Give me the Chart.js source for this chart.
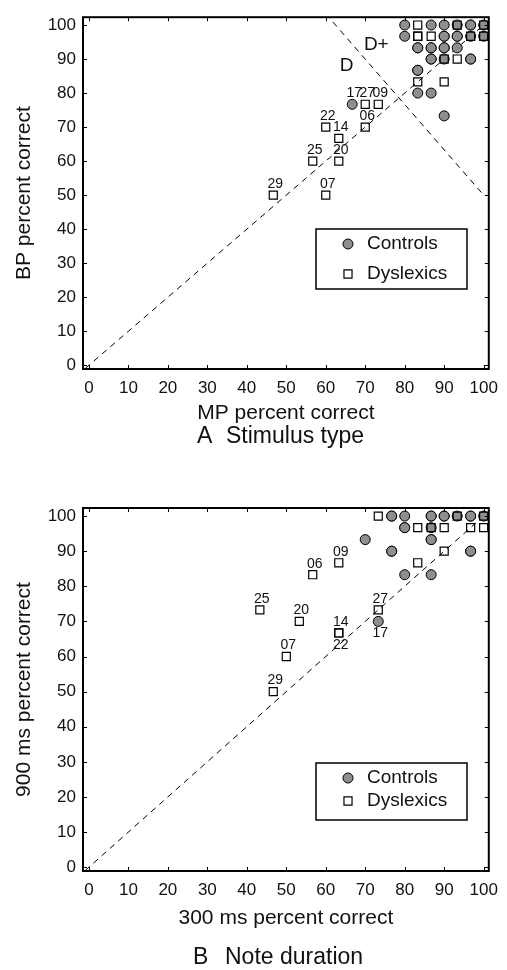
<!DOCTYPE html>
<html>
<head>
<meta charset="utf-8">
<script src="https://cdn.jsdelivr.net/npm/chart.js@4.4.1/dist/chart.umd.min.js"></script>
<style>
  body { margin: 0; background: #fff; }
  canvas { position: absolute; left: 0; }
</style>
</head>
<body>
<canvas id="panel-a" width="507" height="485" style="top:0"></canvas>
<canvas id="panel-b" width="507" height="485" style="top:485px"></canvas>
<script>
const tickValues = [0, 10, 20, 30, 40, 50, 60, 70, 80, 90, 100];

// Panel A - stimulus type (MP on x, BP on y)
const aCtrlX = [80, 86.7, 90, 93.3, 96.7, 96.7, 100,
                80, 90, 90, 93.3, 93.3, 96.7, 100,
                83.3, 83.3, 86.7, 86.7, 90, 90, 93.3,
                86.7, 86.7, 90, 96.7, 96.7,
                83.3, 83.3, 83.3, 86.7, 90, 66.7];
const aCtrlY = [100, 100, 100, 100, 100, 100, 100,
                96.7, 96.7, 96.7, 96.7, 96.7, 96.7, 96.7,
                93.3, 93.3, 93.3, 93.3, 93.3, 93.3, 93.3,
                90, 90, 90, 90, 90,
                86.7, 86.7, 80, 80, 73.3, 76.7];
const aCtrlId = ['', '', '', '', '', '', '', '', '', '', '', '', '', '', '', '', '', '', '', '', '', '', '', '', '', '', '', '', '', '', '', '17'];

const aDysX = [83.3, 93.3, 100, 83.3, 83.3, 86.7, 96.7, 100, 90, 93.3, 83.3, 90,
               70, 73.3, 60, 70, 63.3, 56.7, 63.3, 46.7, 60];
const aDysY = [100, 100, 100, 96.7, 96.7, 96.7, 96.7, 96.7, 90, 90, 83.3, 83.3,
               76.7, 76.7, 70, 70, 66.7, 60, 60, 50, 50];
const aDysId = ['', '', '', '', '', '', '', '', '', '', '', '',
                '27', '09', '22', '06', '14', '25', '20', '29', '07'];

// Panel B - note duration (300 ms on x, 900 ms on y)
const bCtrlX = [76.7, 76.7, 80, 86.7, 86.7, 90, 90, 93.3, 96.7, 96.7, 100,
                80, 80, 86.7, 70, 86.7, 86.7,
                76.7, 76.7, 96.7, 96.7, 80, 86.7, 73.3];
const bCtrlY = [100, 100, 100, 100, 100, 100, 100, 100, 100, 100, 100,
                96.7, 96.7, 96.7, 93.3, 93.3, 93.3,
                90, 90, 90, 90, 83.3, 83.3, 70];
const bCtrlId = ['', '', '', '', '', '', '', '', '', '', '', '', '', '', '', '', '', '', '', '', '', '', '', '17'];

const bDysX = [73.3, 93.3, 100, 83.3, 86.7, 90, 96.7, 100, 90, 83.3,
               63.3, 56.7, 73.3, 43.3, 53.3, 63.3, 63.3, 50, 46.7];
const bDysY = [100, 100, 100, 96.7, 96.7, 96.7, 96.7, 96.7, 90, 86.7,
               86.7, 83.3, 73.3, 73.3, 70, 66.7, 66.7, 60, 50];
const bDysId = ['', '', '', '', '', '', '', '', '', '',
                '09', '06', '27', '25', '20', '14', '22', '07', '29'];

const FONT = '"Liberation Sans", Arial, Helvetica, sans-serif';
const INK = '#111';

function pts(xs, ys) {
    return xs.map((v, i) => ({ x: v, y: ys[i] }));
}

// draws the MATLAB style box, inward ticks, id labels, legend and caption
const panelDecor = {
    id: 'panelDecor',
    afterDatasetsDraw(chart, args, opts) {
        const { ctx, chartArea: a, scales: { x, y } } = chart;
        ctx.save();

        ctx.strokeStyle = '#000';
        ctx.lineWidth = 1;
        ctx.beginPath();
        tickValues.forEach(v => {
            const px = Math.round(x.getPixelForValue(v)) + 0.5;
            ctx.moveTo(px, a.bottom); ctx.lineTo(px, a.bottom - 4);
            ctx.moveTo(px, a.top); ctx.lineTo(px, a.top + 4);
            const py = Math.round(y.getPixelForValue(v)) + 0.5;
            ctx.moveTo(a.left, py); ctx.lineTo(a.left + 4, py);
            ctx.moveTo(a.right, py); ctx.lineTo(a.right - 4, py);
        });
        ctx.stroke();
        ctx.lineWidth = 2;
        ctx.strokeRect(a.left, a.top, a.right - a.left, a.bottom - a.top);

        // subject numbers
        ctx.fillStyle = INK;
        ctx.font = '14px ' + FONT;
        ctx.textAlign = 'center';
        ctx.textBaseline = 'middle';
        chart.data.datasets.forEach(ds => {
            if (!ds.ids) return;
            ds.data.forEach((p, i) => {
                const id = ds.ids[i];
                if (!id) return;
                const below = opts.below.includes(id);
                ctx.fillText(id, x.getPixelForValue(p.x) + 2,
                    y.getPixelForValue(p.y) + (below ? 12 : -11));
            });
        });

        // region notes (D / D+)
        ctx.font = '19px ' + FONT;
        opts.notes.forEach(n => {
            ctx.fillText(n.text, x.getPixelForValue(n.x), y.getPixelForValue(n.y));
        });

        // legend
        const L = opts.legend;
        ctx.fillStyle = '#fff';
        ctx.fillRect(L.left, L.top, L.right - L.left, L.bottom - L.top);
        ctx.lineWidth = 1.5;
        ctx.strokeStyle = '#000';
        ctx.strokeRect(L.left, L.top, L.right - L.left, L.bottom - L.top);
        const entries = [chart.data.datasets[1], chart.data.datasets[0]];
        entries.forEach((ds, i) => {
            ctx.fillStyle = ds.backgroundColor;
            ctx.strokeStyle = ds.borderColor;
            ctx.lineWidth = ds.borderWidth;
            Chart.helpers.drawPoint(ctx, {
                pointStyle: ds.pointStyle, radius: ds.pointRadius,
                borderWidth: ds.borderWidth, rotation: 0
            }, L.markerX, L.rows[i]);
            ctx.fillStyle = INK;
            ctx.font = '19px ' + FONT;
            ctx.textAlign = 'left';
            ctx.fillText(ds.label, L.textX, L.rows[i]);
        });

        ctx.restore();
    },
    afterDraw(chart, args, opts) {
        const { ctx } = chart;
        const c = opts.caption;
        ctx.save();
        ctx.fillStyle = INK;
        ctx.font = '23px ' + FONT;
        ctx.textAlign = 'left';
        ctx.textBaseline = 'middle';
        ctx.fillText(c.letter, c.letterX, c.y);
        ctx.fillText(c.text, c.textX, c.y);
        ctx.restore();
    }
};

function makePanel(canvasId, p) {
    const datasets = [
        {
            label: 'Dyslexics',
            data: pts(p.dysX, p.dysY),
            ids: p.dysId,
            pointStyle: 'rect',
            pointRadius: 5.7,
            backgroundColor: 'rgba(0,0,0,0)',
            borderColor: '#000',
            borderWidth: 1.2
        },
        {
            label: 'Controls',
            data: pts(p.ctrlX, p.ctrlY),
            ids: p.ctrlId,
            pointStyle: 'circle',
            pointRadius: 5,
            backgroundColor: '#8e8e8e',
            borderColor: '#000',
            borderWidth: 1
        }
    ];
    p.refLines.forEach(line => {
        datasets.push({
            label: 'ref',
            data: line,
            showLine: true,
            pointRadius: 0,
            borderColor: '#000',
            borderWidth: 1,
            borderDash: [6, 5],
            fill: false
        });
    });

    return new Chart(document.getElementById(canvasId), {
        type: 'scatter',
        data: { datasets: datasets },
        options: {
            responsive: false,
            animation: false,
            layout: { padding: { top: p.padTop, right: 13, left: 0, bottom: 0 } },
            scales: {
                x: {
                    type: 'linear', min: -1.5, max: 101.3,
                    afterBuildTicks: s => { s.ticks = tickValues.map(v => ({ value: v })); },
                    afterFit: s => { s.height = p.xAxisHeight; },
                    grid: { display: false, drawTicks: false },
                    border: { display: false },
                    ticks: { font: { size: 17, family: FONT }, color: INK, padding: 9, maxRotation: 0, autoSkip: false },
                    title: {
                        display: true, text: p.xTitle, color: INK,
                        font: { size: 21, family: FONT },
                        padding: { top: 0, bottom: p.xTitlePad }
                    }
                },
                y: {
                    type: 'linear', min: -1.1, max: 102.3,
                    afterBuildTicks: s => { s.ticks = tickValues.map(v => ({ value: v })); },
                    afterFit: s => { s.width = 83; },
                    grid: { display: false, drawTicks: false },
                    border: { display: false },
                    ticks: { font: { size: 17, family: FONT }, color: INK, padding: 7, autoSkip: false },
                    title: {
                        display: true, text: p.yTitle, color: INK,
                        font: { size: 21, family: FONT },
                        padding: { top: 12, bottom: 0 }
                    }
                }
            },
            plugins: {
                legend: { display: false },
                tooltip: { enabled: false },
                panelDecor: {
                    below: p.below,
                    notes: p.notes,
                    legend: p.legend,
                    caption: p.caption
                }
            }
        },
        plugins: [panelDecor]
    });
}

makePanel('panel-a', {
    ctrlX: aCtrlX, ctrlY: aCtrlY, ctrlId: aCtrlId,
    dysX: aDysX, dysY: aDysY, dysId: aDysId,
    refLines: [
        [{ x: -3, y: -3 }, { x: 103, y: 103 }],
        [{ x: 60, y: 103.3 }, { x: 100, y: 50 }]
    ],
    padTop: 5, xAxisHeight: 116, xTitlePad: 59,
    xTitle: 'MP percent correct', yTitle: 'BP percent correct',
    below: [],
    notes: [{ text: 'D+', x: 72.8, y: 94.3 }, { text: 'D', x: 65.3, y: 88.1 }],
    legend: { left: 316, top: 229, right: 467, bottom: 289, rows: [244, 274], markerX: 348, textX: 367 },
    caption: { letter: 'A', text: 'Stimulus type', letterX: 197, textX: 226, y: 437 }
});

makePanel('panel-b', {
    ctrlX: bCtrlX, ctrlY: bCtrlY, ctrlId: bCtrlId,
    dysX: bDysX, dysY: bDysY, dysId: bDysId,
    refLines: [
        [{ x: -3, y: -3 }, { x: 103, y: 103 }]
    ],
    padTop: 23, xAxisHeight: 99, xTitlePad: 39,
    xTitle: '300 ms percent correct', yTitle: '900 ms percent correct',
    below: ['22', '17'],
    notes: [],
    legend: { left: 316, top: 278, right: 467, bottom: 335, rows: [293, 316], markerX: 348, textX: 367 },
    caption: { letter: 'B', text: 'Note duration', letterX: 193, textX: 225, y: 473 }
});
</script>
</body>
</html>
